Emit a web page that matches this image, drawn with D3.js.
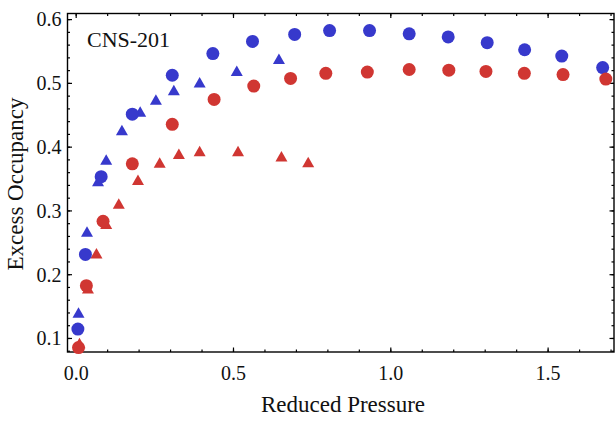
<!DOCTYPE html>
<html>
<head>
<meta charset="utf-8">
<script src="https://cdn.jsdelivr.net/npm/d3@7"></script>
<style>
  html, body { margin: 0; padding: 0; background: #fff; }
  svg { display: block; }
  text { font-family: "Liberation Serif", "DejaVu Serif", serif; fill: #111; }
</style>
</head>
<body>
<svg id="chart" width="616" height="421"></svg>
<script>
// Excess occupancy vs reduced pressure, CNS-201
const blueCircleX = [0.007, 0.031, 0.081, 0.180, 0.307, 0.436, 0.562, 0.696, 0.807, 0.934, 1.060, 1.184, 1.308, 1.427, 1.545, 1.675];
const blueCircleY = [0.114, 0.231, 0.353, 0.451, 0.512, 0.546, 0.565, 0.576, 0.582, 0.582, 0.577, 0.572, 0.563, 0.552, 0.542, 0.524];

const blueTriangleX = [0.009, 0.036, 0.071, 0.097, 0.147, 0.205, 0.255, 0.312, 0.394, 0.512, 0.646];
const blueTriangleY = [0.140, 0.267, 0.346, 0.380, 0.426, 0.455, 0.474, 0.489, 0.501, 0.519, 0.538];

const redCircleX = [0.009, 0.034, 0.087, 0.180, 0.307, 0.440, 0.566, 0.683, 0.795, 0.927, 1.060, 1.186, 1.304, 1.426, 1.549, 1.685];
const redCircleY = [0.085, 0.182, 0.283, 0.373, 0.435, 0.474, 0.495, 0.507, 0.515, 0.517, 0.521, 0.520, 0.518, 0.515, 0.513, 0.506];

const redTriangleX = [0.012, 0.039, 0.066, 0.097, 0.137, 0.198, 0.267, 0.328, 0.394, 0.516, 0.654, 0.739];
const redTriangleY = [0.092, 0.178, 0.233, 0.279, 0.311, 0.348, 0.375, 0.389, 0.393, 0.393, 0.385, 0.376];

const xMajorTicks = [0, 0.5, 1.0, 1.5];
const yMajorTicks = [0.1, 0.2, 0.3, 0.4, 0.5, 0.6];
const xMinorTicks = d3.range(0, 18).map(i => i / 10);
const yMinorTicks = d3.range(4, 31).map(i => i / 50);

const BLUE = "#3739cc";
const RED = "#d03632";

const svg = d3.select("#chart");
const plotLeft = 67.5, plotRight = 614, plotTop = 13.5, plotBottom = 352;

const x = d3.scaleLinear().domain([-0.026, 1.711]).range([plotLeft, plotRight]);
const y = d3.scaleLinear().domain([0.078, 0.6088]).range([plotBottom, plotTop]);

const zip = (xs, ys) => xs.map((v, i) => [v, ys[i]]);

// frame axes with inward ticks
function axisGroup(axis, tx, ty) {
  const g = svg.append("g").attr("transform", `translate(${tx},${ty})`).call(axis);
  g.select(".domain").remove();
  g.selectAll(".tick line").attr("stroke", "#000").attr("stroke-width", 1.2);
  return g;
}
const fmt = d3.format(".1f");
const tickFont = "Liberation Serif";

// minor ticks
axisGroup(d3.axisBottom(x).tickValues(xMinorTicks).tickSizeInner(-2.5).tickSizeOuter(0).tickFormat(""), 0, plotBottom);
axisGroup(d3.axisTop(x).tickValues(xMinorTicks).tickSizeInner(-2.5).tickSizeOuter(0).tickFormat(""), 0, plotTop);
axisGroup(d3.axisLeft(y).tickValues(yMinorTicks).tickSizeInner(-2.5).tickSizeOuter(0).tickFormat(""), plotLeft, 0);
axisGroup(d3.axisRight(y).tickValues(yMinorTicks).tickSizeInner(-2.5).tickSizeOuter(0).tickFormat(""), plotRight, 0);

// major ticks with labels
const gxb = axisGroup(d3.axisBottom(x).tickValues(xMajorTicks).tickSizeInner(-4.5).tickSizeOuter(0).tickFormat(fmt), 0, plotBottom);
gxb.selectAll(".tick text").attr("font-size", 20).attr("font-family", tickFont).attr("fill", "#111").attr("dy", null).attr("y", 27.5);
axisGroup(d3.axisTop(x).tickValues(xMajorTicks).tickSizeInner(-4.5).tickSizeOuter(0).tickFormat(""), 0, plotTop);
const gyl = axisGroup(d3.axisLeft(y).tickValues(yMajorTicks).tickSizeInner(-4.5).tickSizeOuter(0).tickFormat(fmt), plotLeft, 0);
gyl.selectAll(".tick text").attr("font-size", 20).attr("font-family", tickFont).attr("fill", "#111").attr("x", -6).attr("dy", "0.34em");
axisGroup(d3.axisRight(y).tickValues(yMajorTicks).tickSizeInner(-4.5).tickSizeOuter(0).tickFormat(""), plotRight, 0);

// frame
svg.append("rect")
  .attr("x", plotLeft).attr("y", plotTop)
  .attr("width", plotRight - plotLeft).attr("height", plotBottom - plotTop)
  .attr("fill", "none").attr("stroke", "#000").attr("stroke-width", 1.4);

// markers
const triW = 12, triH = 10.5;
const triPath = `M0,${-triH / 2}L${triW / 2},${triH / 2}L${-triW / 2},${triH / 2}Z`;

function triangles(data, color) {
  svg.append("g").selectAll("path").data(data).join("path")
    .attr("d", triPath)
    .attr("transform", d => `translate(${x(d[0])},${y(d[1])})`)
    .attr("fill", color);
}
function circles(data, color) {
  svg.append("g").selectAll("circle").data(data).join("circle")
    .attr("cx", d => x(d[0])).attr("cy", d => y(d[1])).attr("r", 6.5)
    .attr("fill", color);
}

triangles(zip(blueTriangleX, blueTriangleY), BLUE);
triangles(zip(redTriangleX, redTriangleY), RED);
circles(zip(blueCircleX, blueCircleY), BLUE);
circles(zip(redCircleX, redCircleY), RED);

// labels
svg.append("text")
  .attr("x", 343).attr("y", 411.5)
  .attr("text-anchor", "middle").attr("font-size", 23)
  .text("Reduced Pressure");

svg.append("text")
  .attr("transform", `translate(23,184) rotate(-90)`)
  .attr("text-anchor", "middle").attr("font-size", 23)
  .text("Excess Occupancy");

svg.append("text")
  .attr("x", 87).attr("y", 46.5)
  .attr("font-size", 22)
  .text("CNS-201");
</script>
</body>
</html>
